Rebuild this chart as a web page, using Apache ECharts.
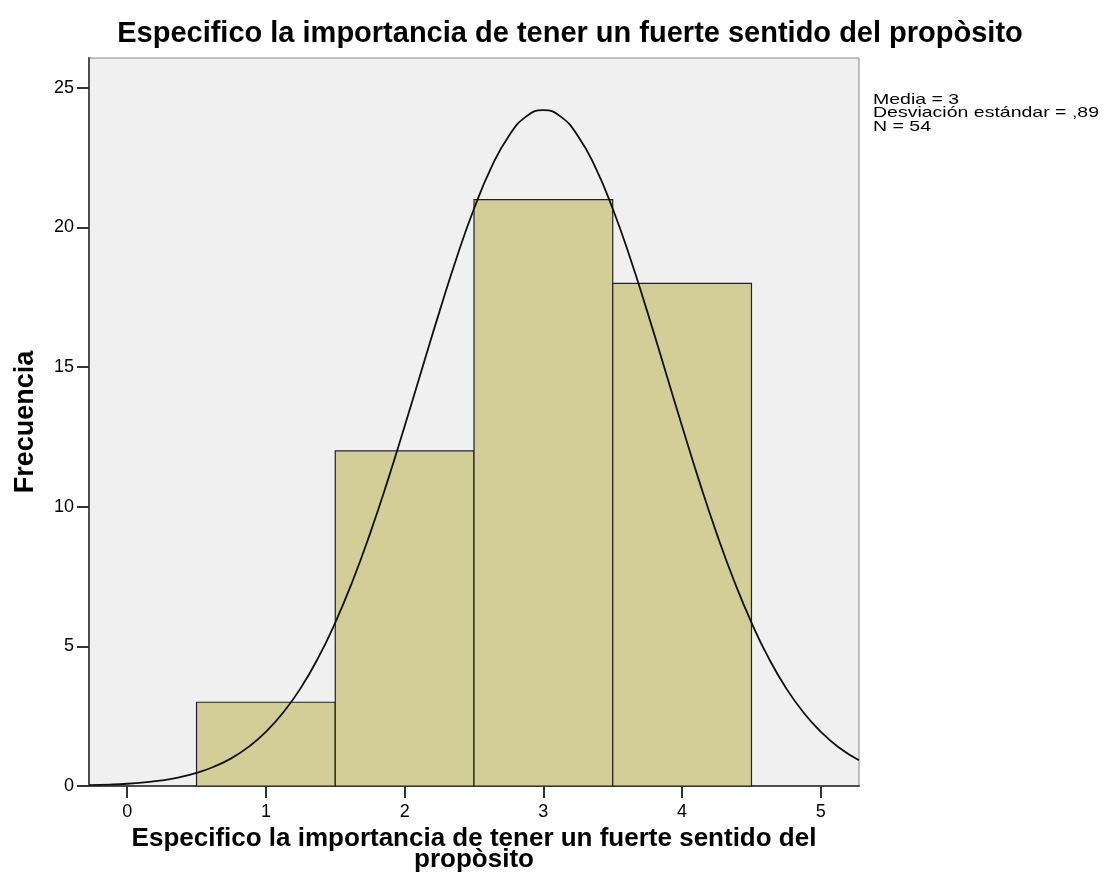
<!DOCTYPE html>
<html>
<head>
<meta charset="utf-8">
<script src="https://cdn.jsdelivr.net/npm/echarts@6/dist/echarts.min.js"></script>
<style>
  html, body { margin: 0; padding: 0; background: #fff; }
  #main { width: 1110px; height: 896px; }
</style>
</head>
<body>
<div id="main"></div>
<script>
  // histogram bins: start, end, count
  var binStart = [0.5, 1.5, 2.5, 3.5]
  var binEnd = [1.5, 2.5, 3.5, 4.5]
  var counts = [3, 12, 21, 18]

  // normal curve
  var curveX = [-0.275, -0.125, 0, 0.125, 0.25, 0.375, 0.5, 0.625, 0.75, 0.875, 1, 1.125, 1.25, 1.375,
                1.5, 1.625, 1.75, 1.875, 2, 2.125, 2.25, 2.375, 2.5, 2.625, 2.75, 2.875, 3,
                3.125, 3.25, 3.375, 3.5, 3.625, 3.75, 3.875, 4, 4.125, 4.25, 4.375, 4.5,
                4.625, 4.75, 4.875, 5, 5.125, 5.275]
  var curveY = [0.03, 0.05, 0.08, 0.13, 0.2, 0.31, 0.47, 0.69, 0.99, 1.4, 1.94, 2.63, 3.5, 4.57,
                5.85, 7.34, 9.03, 10.89, 12.88, 14.93, 16.97, 18.92, 20.67, 22.15, 23.27, 23.97, 24.2,
                23.97, 23.27, 22.15, 20.67, 18.92, 16.97, 14.93, 12.88, 10.89, 9.03, 7.34, 5.85,
                4.57, 3.5, 2.63, 1.94, 1.4, 0.92]

  var xTicks = [0, 1, 2, 3, 4, 5]
  var statsText = ['Media = 3', 'Desviación estándar = ,89', 'N = 54']

  var bars = binStart.map(function (s, i) { return [s, binEnd[i], counts[i]] })
  var curve = curveX.map(function (x, i) { return [x, curveY[i]] })

  // one text element per stats line, stretched wide like the original
  var statsGraphic = statsText.map(function (t, i) {
    return {
      type: 'text',
      x: 873,
      y: 92 + i * 13.5,
      scaleX: 1.3,
      style: { text: t, font: '15px "Liberation Sans"', fill: '#000' }
    }
  })

  var myChart = echarts.init(document.getElementById('main'))
  var option = {
    backgroundColor: '#fff',
    animation: false,
    title: {
      text: 'Especifico la importancia de tener un fuerte sentido del propòsito',
      left: 565,
      textAlign: 'center',
      top: 14,
      textStyle: { fontFamily: 'Liberation Sans', fontWeight: 'bold', fontSize: 29, color: '#000' }
    },
    grid: {
      left: 89, right: 251, top: 58, bottom: 110,
      outerBoundsMode: 'none',
      containLabel: false,
      show: true, backgroundColor: '#f0f0f0', borderColor: '#888', borderWidth: 1
    },
    xAxis: {
      type: 'value',
      min: -0.275,
      max: 5.275,
      splitLine: { show: false },
      axisLine: { onZero: false, lineStyle: { color: '#4d4d4d', width: 2 } },
      axisTick: { customValues: xTicks, length: 12, lineStyle: { color: '#333', width: 2 } },
      axisLabel: { customValues: xTicks, margin: 17, color: '#000', fontFamily: 'Liberation Sans', fontSize: 18 },
      name: 'Especifico la importancia de tener un fuerte sentido del\npropòsito',
      nameLocation: 'middle',
      nameGap: 28,
      nameTextStyle: { fontFamily: 'Liberation Sans', fontWeight: 'bold', fontSize: 26, color: '#000', lineHeight: 21 }
    },
    yAxis: {
      type: 'value',
      min: 0,
      max: 26.07,
      interval: 5,
      splitLine: { show: false },
      axisLine: { show: true, onZero: false, lineStyle: { color: '#4d4d4d', width: 2 } },
      axisTick: { show: true, length: 12, lineStyle: { color: '#333', width: 2 } },
      axisLabel: { margin: 15, color: '#000', fontFamily: 'Liberation Sans', fontSize: 18,
        showMaxLabel: false },
      name: 'Frecuencia',
      nameLocation: 'middle',
      nameGap: 50,
      nameTextStyle: { fontFamily: 'Liberation Sans', fontWeight: 'bold', fontSize: 27, color: '#000' }
    },
    graphic: statsGraphic,
    series: [
      {
        type: 'custom',
        data: bars,
        encode: { x: [0, 1], y: 2 },
        renderItem: function (params, api) {
          var p0 = api.coord([api.value(0), api.value(2)])
          var p1 = api.coord([api.value(1), 0])
          return {
            type: 'rect',
            shape: { x: p0[0], y: p0[1], width: p1[0] - p0[0], height: p1[1] - p0[1] },
            style: { fill: '#d3ce98', stroke: '#222', lineWidth: 1.2 }
          }
        },
        z: 2
      },
      {
        type: 'line',
        data: curve,
        smooth: true,
        showSymbol: false,
        lineStyle: { color: '#111', width: 1.8 },
        z: 3
      }
    ]
  }
  myChart.setOption(option)
</script>
</body>
</html>
